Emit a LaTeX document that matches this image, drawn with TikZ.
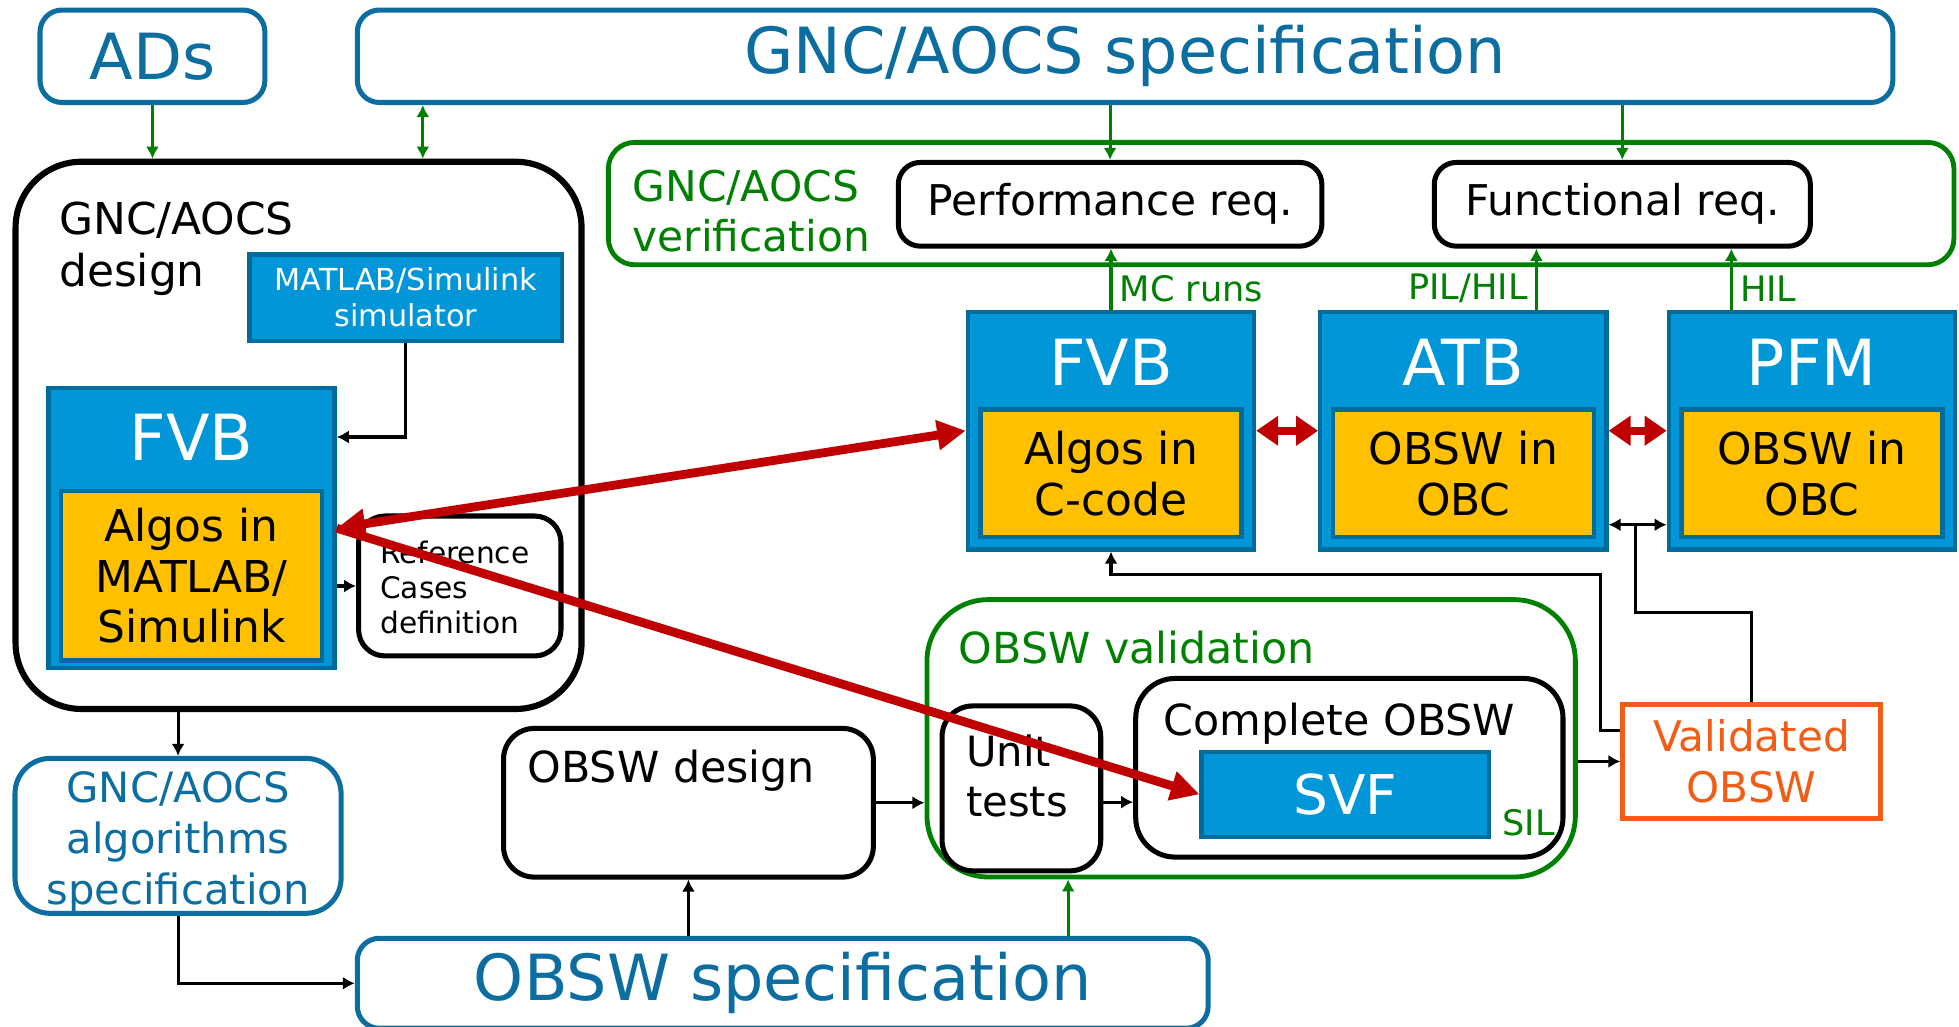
\documentclass[tikz,border=0pt]{standalone}
\usepackage{fontspec}
\setmainfont{DejaVu Sans}
\usepackage{xcolor}
\usepackage{tikz}
\usetikzlibrary{arrows.meta}

\definecolor{specblue}{RGB}{12,110,160}
\definecolor{benchblue}{RGB}{0,150,215}
\definecolor{benchedge}{RGB}{0,108,158}
\definecolor{algoyellow}{RGB}{255,192,0}
\definecolor{vgreen}{RGB}{0,128,0}
\definecolor{vred}{RGB}{192,0,0}
\definecolor{valorange}{RGB}{242,92,20}

\newcommand{\fsbig}{\fontsize{29}{33}\selectfont}
\newcommand{\fsalgo}{\fontsize{20}{23.2}\selectfont}
\newcommand{\fsmid}{\fontsize{19.5}{23}\selectfont}
\newcommand{\fsreq}{\fontsize{19.3}{22.7}\selectfont}
\newcommand{\fslab}{\fontsize{16}{18}\selectfont}
\newcommand{\fssim}{\fontsize{13.8}{16.4}\selectfont}

\begin{document}
\begin{tikzpicture}[x=0.02cm,y=-0.02cm]

\useasboundingbox (0,0) rectangle (1568,822);

% Define block styles
\tikzstyle{spec} = [draw=specblue, line width=2.3pt, rounded corners=10pt,
  text=specblue, align=center]
\tikzstyle{bench} = [draw=benchedge, fill=benchblue, line width=2pt]
\tikzstyle{algo} = [draw=benchedge, fill=algoyellow, line width=2pt,
  align=center, font=\fsalgo]
\tikzstyle{activity} = [draw, line width=2.3pt, rounded corners=10pt]
\tikzstyle{checkbox} = [draw=vgreen, line width=2.2pt, rounded corners=12pt]
\tikzstyle{texto} = [inner sep=0pt, align=left]
\tikzstyle{line} = [draw, line width=1.4pt, -{Latex[length=5.5pt,width=6pt]}]
\tikzstyle{twoway} = [draw, line width=1.4pt,
  {Latex[length=5.5pt,width=6pt]}-{Latex[length=5.5pt,width=6pt]}]
\tikzstyle{gline} = [line, color=vgreen]
\tikzstyle{rline} = [draw, line width=4pt, color=vred,
  -{Triangle[length=13pt,width=13pt]}]
\tikzstyle{rtwoway} = [draw, line width=4pt, color=vred,
  {Triangle[length=13pt,width=13pt]}-{Triangle[length=13pt,width=13pt]}]
\tikzstyle{rshort} = [draw, line width=3.5pt, color=vred,
  {Triangle[length=10pt,width=13pt]}-{Triangle[length=10pt,width=13pt]}]

% Box from its upper left corner to its lower right corner
\newcommand{\boxat}[7]{%
  \path node (#1) [#2, anchor=north west, inner sep=0pt,
    minimum width={((#5)-(#3))*0.02cm}, minimum height={((#6)-(#4))*0.02cm}]
    at (#3,#4) {#7};}

% Test bench with its title and its inner box
\newcommand{\bench}[5]{%
  \boxat{#1}{bench}{#2}{#3}{#2+229}{#3+190}{}
  \path (#1.north)+(0,42) node (#1t) [font=\fsbig, text=white] {#4};
  \boxat{#1a}{algo}{#2+10}{#3+78}{#2+219}{#3+180}{#5}}

% Specifications
\boxat{ads}{spec, font=\fsbig}{30}{6}{210}{80}{ADs}
\boxat{spec}{spec, font=\fsbig}{284}{6}{1513}{80}{GNC/AOCS specification}
\boxat{obswspec}{spec, font=\fsbig}{284}{749}{965}{821}{OBSW specification}
\boxat{algspec}{spec, rounded corners=16pt}{10}{605}{271}{729}{}
\path (algspec.center)+(0,5) node (algspect) [text=specblue, align=center,
  font={\fontsize{19}{23.2}\selectfont}] {GNC/AOCS\\algorithms\\specification};

% GNC/AOCS design
\boxat{design}{activity, line width=2.8pt, rounded corners=30pt}{10}{127}{463}{565}{}
\path (design.north west)+(37,72) node (designt) [texto, anchor=west,
  font={\fontsize{20}{23.8}\selectfont}] {GNC/AOCS\\design};
\boxat{sim}{bench, text=white, align=center, font=\fssim}{198}{202}{448}{271}
  {MATLAB/Simulink\\simulator}
\boxat{fvbL}{bench}{37}{309}{266}{533}{}
\path (fvbL.north)+(0,41) node (fvbLt) [font=\fsbig, text=white] {FVB};
\boxat{fvbLa}{algo}{47}{391}{256}{527}{Algos in\\MATLAB/\\Simulink}
\boxat{ref}{activity, rounded corners=12pt}{285}{411}{447}{523}{}
\path (ref.west)+(19,1) node (reft) [texto, anchor=west,
  font={\fontsize{13.5}{15.9}\selectfont}] {Reference\\Cases\\definition};

% GNC/AOCS verification
\boxat{verif}{checkbox}{485}{112}{1562}{210}{}
\path (verif.west)+(21,6) node (veriftt) [texto, anchor=west, font=\fsreq,
  text=vgreen] {GNC/AOCS\\verification};
\boxat{perf}{activity}{717}{128}{1056}{195}{\fsreq Performance req.}
\boxat{func}{activity}{1146}{128}{1447}{195}{\fsreq Functional req.}
\bench{fvbR}{773}{248}{FVB}{Algos in\\C-code}
\bench{atb}{1055}{248}{ATB}{OBSW in\\OBC}
\bench{pfm}{1334}{248}{PFM}{OBSW in\\OBC}

% OBSW design and validation
\boxat{obswdes}{activity, rounded corners=14pt}{401}{581}{697}{700}{}
\path (obswdes.north west)+(21,36) node (obswdest) [texto, anchor=west,
  font=\fsmid] {OBSW design};
\boxat{val}{checkbox, rounded corners=28pt}{740}{478}{1259}{700}{}
\path (val.north west)+(27,40) node (valt) [texto, anchor=west, font=\fsmid,
  text=vgreen] {OBSW validation};
\boxat{unit}{activity, rounded corners=14pt}{752}{563}{879}{695}{}
\path (unit.west)+(21,-10) node (unitt) [texto, anchor=west,
  font={\fontsize{19}{23}\selectfont}] {Unit\\tests};
\boxat{compl}{activity, rounded corners=18pt}{907}{541}{1249}{684}{}
\path (compl.north)+(-8,38) node (complt) [font=\fsmid] {Complete OBSW};
\boxat{svf}{bench, text=white, font={\fontsize{25}{29}\selectfont}}{960}{600}{1190}{668}{SVF}
\path (svf.south east)+(30,-13) node (sil) [font=\fslab, text=vgreen] {SIL};
\boxat{valid}{draw=valorange, line width=2.2pt, text=valorange, align=center,
  font={\fontsize{19.2}{23.2}\selectfont}}{1297}{562}{1503}{653}{Validated\\OBSW}

% Connectors
\path [gline] (ads) -- (ads.south |- design.north);
\path [twoway, color=vgreen] ([xshift=1.99cm]design.north |- spec.south)
  -- ([xshift=1.99cm]design.north);
\path [gline] (spec.south -| perf.north) -- (perf.north);
\path [gline] (spec.south -| func.north) -- (func.north);
\path [gline] (fvbR.north) -- node [pos=0.35, right, font=\fslab] {MC runs}
  (fvbR.north |- perf.south);
\path [gline] ([xshift=1.17cm]atb.north) -- node [pos=0.35, left, font=\fslab] {PIL/HIL}
  ([xshift=1.17cm]atb.north |- func.south);
\path [gline] ([xshift=-1.29cm]pfm.north) -- node [pos=0.35, right, font=\fslab] {HIL}
  ([xshift=-1.29cm]pfm.north |- func.south);

\path [line] (sim.south) |- ([yshift=1.46cm]fvbL.east);
\path [line] (fvbL.east |- ref.west) -- (ref.west);
\path [line] (design.south -| algspec.north) -- (algspec.north);
\path [line] (algspec.south) |- (obswspec.west);
\path [line] (obswspec.north -| obswdes.south) -- (obswdes.south);
\path [gline] ([xshift=-2.93cm]val.south |- obswspec.north) -- ([xshift=-2.93cm]val.south);
\path [line] (obswdes.east) -- (obswdes.east -| val.west);
\path [line] ([yshift=-0.22cm]unit.east) -- ([yshift=-0.22cm]unit.east -| compl.west);
\path [line] (valid.west -| val.east) -- (valid.west);
\path [line] ([yshift=0.49cm]valid.west) -| (1281,460) -| (fvbR.south);
\coordinate (tee) at (1309,420);
\path [draw, line width=1.4pt] (valid.north) |- (1309,490) -- (tee);
\path [twoway] (atb.east |- tee) -- (pfm.west |- tee);

% Model exchange between benches
\path [rtwoway] (fvbL.east) -- (fvbR.west);
\path [rline] (fvbL.east) -- (svf.west);
\path [rshort] (fvbR.east) -- (atb.west);
\path [rshort] (atb.east) -- (pfm.west);

\end{tikzpicture}
\end{document}
